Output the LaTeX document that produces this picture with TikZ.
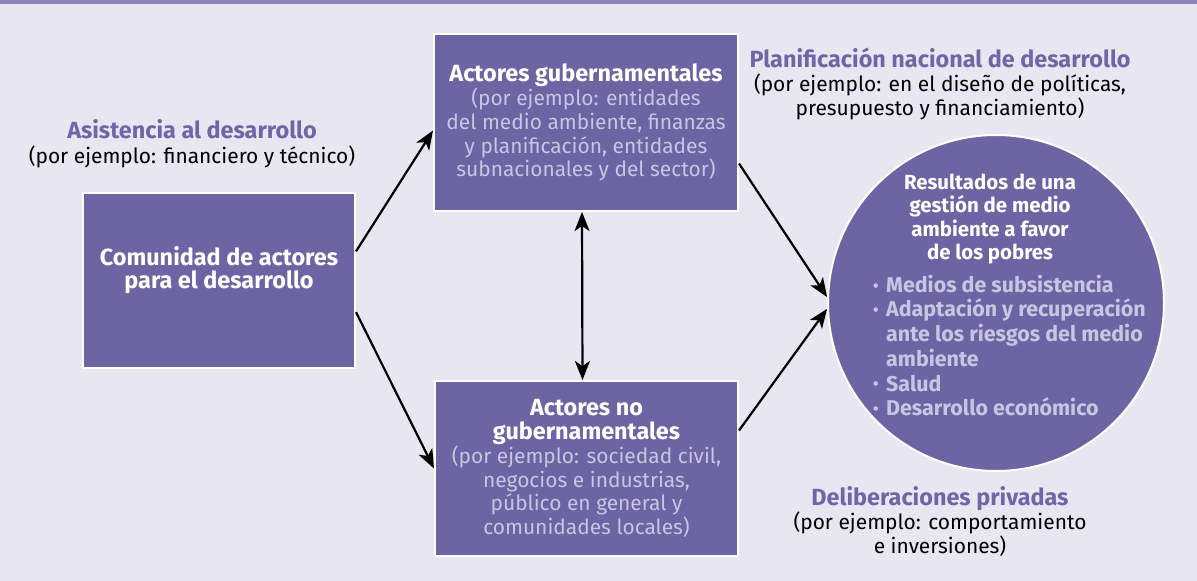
\documentclass[tikz,border=0pt]{standalone}
\usepackage{fontspec}
\setmainfont{Fira Sans}
\usetikzlibrary{arrows.meta}
\definecolor{bg}{RGB}{232,230,241}
\definecolor{topbar}{RGB}{138,133,186}
\definecolor{boxfill}{RGB}{107,102,163}
\definecolor{lighttxt}{RGB}{200,197,226}
\definecolor{lblpurple}{RGB}{108,103,167}
\newcommand\mybul{\makebox[13bp][l]{\raisebox{0.05em}{\scalebox{0.75}{\textbullet}}}}
\newcommand\myind{\hspace*{13bp}}
\newcommand\hb[1]{{\fontsize{23.5}{24}\selectfont\bfseries #1}}
\begin{document}
\begin{tikzpicture}[x=1bp,y=-1bp,
  box/.style={draw=white, line width=2bp, fill=boxfill, inner sep=0pt, align=center,
    font=\fontsize{21}{24}\selectfont, text=lighttxt},
  lbl/.style={align=center, inner sep=0pt, font=\fontsize{21}{24}\selectfont, text=black},
  circtext/.style={inner sep=0pt, font=\fontsize{20.5}{23.5}\selectfont\bfseries},
  conn/.style={draw=black, line width=2.2bp, -{Stealth[length=19bp,width=15bp,inset=5bp]}},
  dconn/.style={draw=black, line width=2.2bp, {Stealth[length=19bp,width=15bp,inset=5bp]}-{Stealth[length=19bp,width=15bp,inset=5bp]}}
]
\useasboundingbox (0,0) rectangle (1197,581);
\fill[bg] (0,0) rectangle (1197,581);
\fill[topbar] (0,0) rectangle (1197,4);

\node[box, minimum width=272bp, minimum height=175bp] (comunidad) at (219,280.5)
  {\textcolor{white}{\hb{Comunidad de actores}}\\\textcolor{white}{\hb{para el desarrollo}}\\[2bp]};
\node[box, minimum width=304bp, minimum height=177bp] (gob) at (586,122.5)
  {\textcolor{white}{\hb{Actores gubernamentales}}\\(por ejemplo: entidades\\del medio ambiente, finanzas\\y planificación, entidades\\subnacionales y del sector)};
\node[box, minimum width=303bp, minimum height=175bp] (nogob) at (586.5,468.5)
  {\textcolor{white}{\hb{Actores no}}\\\textcolor{white}{\hb{gubernamentales}}\\(por ejemplo: sociedad civil,\\negocios e industrias,\\público en general y\\comunidades locales)};
\node[circle, draw=white, line width=2bp, fill=boxfill, minimum size=336bp, inner sep=0pt] (result) at (996,303) {};

\node[circtext, align=center, text=white] (rtitle) at (990,219)
  {Resultados de una\\gestión de medio\\ambiente a favor\\de los pobres};
\node[circtext, font=\fontsize{21.5}{24.8}\selectfont\bfseries, align=left, anchor=west, text=lighttxt] (rlist) at (873,345.5)
  {\mybul Medios de subsistencia\\\mybul Adaptación y recuperación\\\myind ante los riesgos del medio\\\myind ambiente\\\mybul Salud\\\mybul Desarrollo económico};

\node[lbl, font=\fontsize{21}{25}\selectfont] (asis) at (192,144)
  {\textcolor{lblpurple}{\hb{Asistencia al desarrollo}}\\(por ejemplo: financiero y técnico)};
\node[lbl] (plan) at (940,84)
  {\textcolor{lblpurple}{\hb{Planificación nacional de desarrollo}}\\(por ejemplo: en el diseño de políticas,\\presupuesto y financiamiento)};
\node[lbl] (delib) at (940,521.5)
  {\textcolor{lblpurple}{\hb{Deliberaciones privadas}}\\(por ejemplo: comportamiento\\e inversiones)};

\draw[conn] (comunidad.12.5) -- (gob.183);
\draw[conn] (comunidad.-13) -- (nogob.180);
\draw[dconn] ([xshift=-4bp]gob.south) -- ([xshift=-4bp]nogob.north);
\draw[conn] (gob.-15) -- (result.178);
\draw[conn] (nogob.14) -- (result.182);
\end{tikzpicture}
\end{document}
